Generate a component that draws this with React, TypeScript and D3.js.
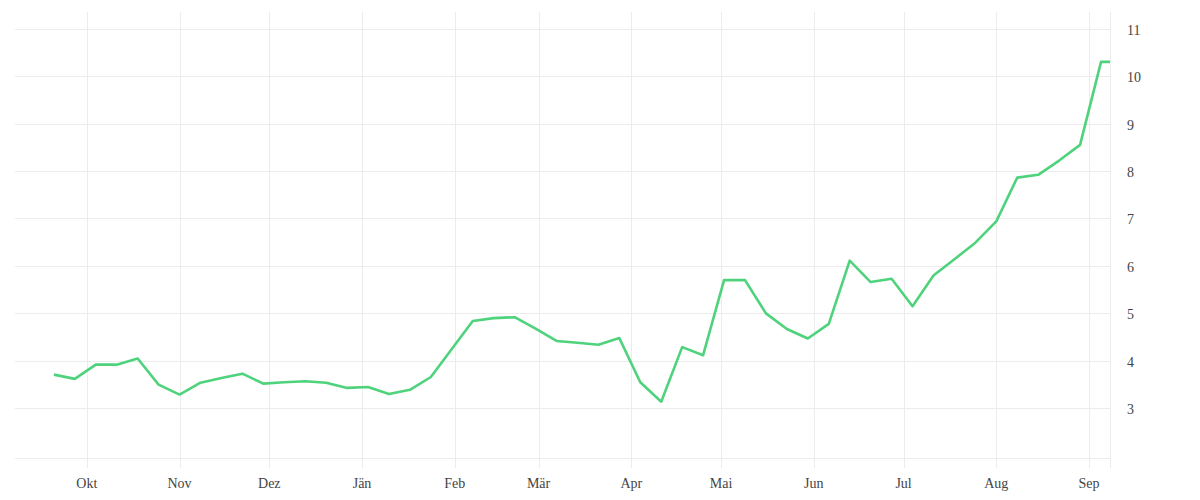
import React from "react";
import * as d3 from "d3";

/* DATA */
const dates = [
  "2022-09-20", "2022-09-27", "2022-10-04", "2022-10-11", "2022-10-18", "2022-10-25",
  "2022-11-01", "2022-11-08", "2022-11-15", "2022-11-22", "2022-11-29", "2022-12-06",
  "2022-12-13", "2022-12-20", "2022-12-27", "2023-01-03", "2023-01-10", "2023-01-17",
  "2023-01-24", "2023-01-31", "2023-02-07", "2023-02-14", "2023-02-21", "2023-02-28",
  "2023-03-07", "2023-03-14", "2023-03-21", "2023-03-28", "2023-04-04", "2023-04-11",
  "2023-04-18", "2023-04-25", "2023-05-02", "2023-05-09", "2023-05-16", "2023-05-23",
  "2023-05-30", "2023-06-06", "2023-06-13", "2023-06-20", "2023-06-27", "2023-07-04",
  "2023-07-11", "2023-07-18", "2023-07-25", "2023-08-01", "2023-08-08", "2023-08-15",
  "2023-08-22", "2023-08-29", "2023-09-05", "2023-09-08",
];

const values = [
  3.71, 3.62, 3.92, 3.92, 4.05, 3.5,
  3.29, 3.54, 3.64, 3.73, 3.52, 3.55,
  3.57, 3.54, 3.43, 3.45, 3.3, 3.39,
  3.66, 4.25, 4.84, 4.9, 4.92, 4.68,
  4.42, 4.38, 4.34, 4.48, 3.55, 3.14,
  4.29, 4.12, 5.7, 5.7, 5.0, 4.67,
  4.47, 4.78, 6.11, 5.66, 5.73, 5.15,
  5.8, 6.14, 6.49, 6.94, 7.86, 7.92,
  8.22, 8.55, 10.3, 10.3,
];

const monthTicks = [
  "2022-10-01", "2022-11-01", "2022-12-01", "2023-01-01", "2023-02-01", "2023-03-01",
  "2023-04-01", "2023-05-01", "2023-06-01", "2023-07-01", "2023-08-01", "2023-09-01",
];
const monthLabels = ["Okt", "Nov", "Dez", "Jän", "Feb", "Mär", "Apr", "Mai", "Jun", "Jul", "Aug", "Sep"];

const yTicks = [3, 4, 5, 6, 7, 8, 9, 10, 11];

const parse = d3.timeParse("%Y-%m-%d");

function App() {
  const width = 1200;
  const height = 500;
  const left = 15;
  const right = 1110;
  const top = 12;
  const bottom = 458.3;

  // Scales
  const x = d3
    .scaleTime()
    .domain([parse("2022-09-07") as Date, parse("2023-09-08") as Date])
    .range([left, right]);

  const y = d3.scaleLinear().domain([1.947, 11.35]).range([bottom, top]);

  const points = dates.map((d, i) => ({ date: parse(d) as Date, value: values[i] }));

  const line = d3
    .line<any>()
    .x((d) => x(d.date))
    .y((d) => y(d.value));

  const font = "'Liberation Serif', 'DejaVu Serif', serif";

  return (
    <svg
      width={width}
      height={height}
      style={{ position: "absolute", left: 0, top: 0, background: "#fff" }}
    >
      {/* horizontal grid */}
      {yTicks.map((t) => (
        <line
          key={"h" + t}
          x1={left}
          x2={right}
          y1={Math.round(y(t)) + 0.5}
          y2={Math.round(y(t)) + 0.5}
          stroke="#ececec"
          strokeWidth={1}
        />
      ))}
      <line x1={left} x2={right} y1={458.5} y2={458.5} stroke="#ececec" />

      {/* vertical grid */}
      {monthTicks.map((m) => {
        const xx = Math.round(x(parse(m) as Date)) + 0.5;
        return (
          <line key={"v" + m} x1={xx} x2={xx} y1={top} y2={468} stroke="#ececec" />
        );
      })}
      <line x1={right + 0.5} x2={right + 0.5} y1={top} y2={468} stroke="#ececec" />

      {/* series */}
      <path
        d={line(points) as string}
        fill="none"
        stroke="#4ed37c"
        strokeWidth={2.6}
        strokeLinejoin="round"
      />

      {/* y labels */}
      {yTicks.map((t) => (
        <text
          key={"yl" + t}
          x={1127}
          y={y(t) + 6}
          fontFamily={font}
          fontSize={14}
          fill="#444"
        >
          {t}
        </text>
      ))}

      {/* x labels */}
      {monthTicks.map((m, i) => (
        <text
          key={"xl" + m}
          x={x(parse(m) as Date)}
          y={488}
          textAnchor="middle"
          fontFamily={font}
          fontSize={14}
          fill="#444"
        >
          {monthLabels[i]}
        </text>
      ))}
    </svg>
  );
}

export default App;
